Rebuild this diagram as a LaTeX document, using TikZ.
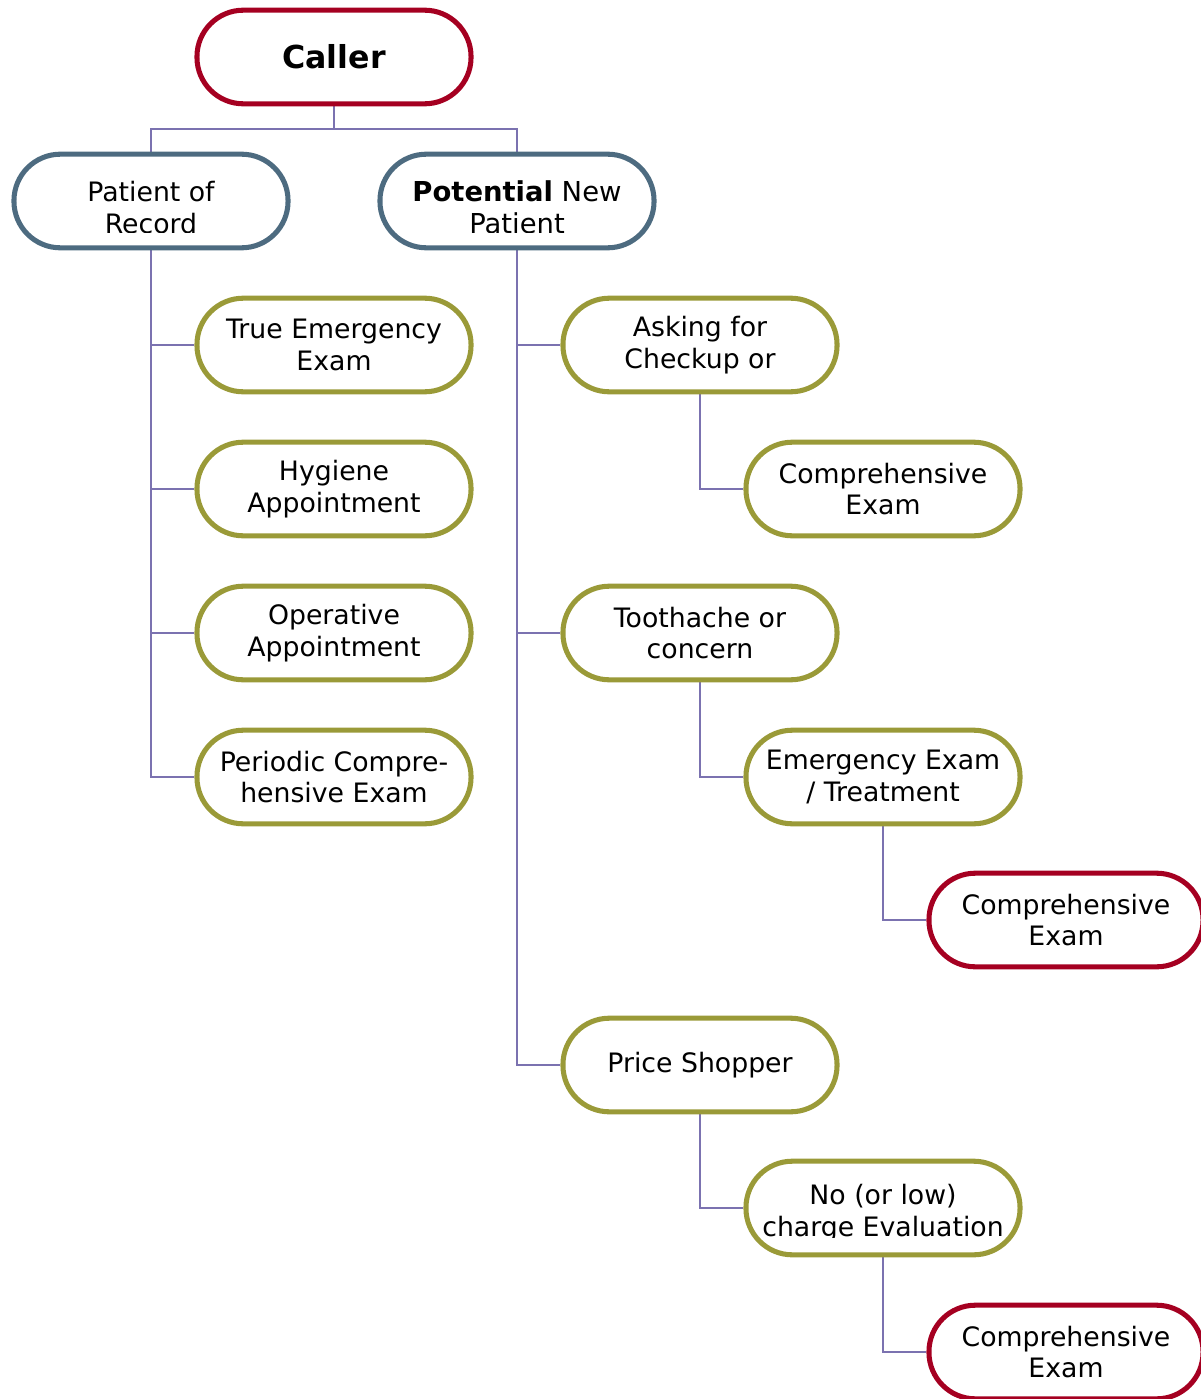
\documentclass[tikz,border=0pt]{standalone}
\usepackage{fontspec}
\setmainfont{DejaVu Sans}
\definecolor{cred}{HTML}{A50021}
\definecolor{cblue}{HTML}{4D6B80}
\definecolor{colive}{HTML}{9A9A38}
\definecolor{clink}{HTML}{7B72B0}
\pgfdeclarelayer{bg}
\pgfsetlayers{bg,main}
\begin{document}
\begin{tikzpicture}[x=0.025cm,y=-0.025cm,
  box/.style={draw, line width=3.6pt, rounded corners=1.16cm, minimum width=6.85cm, minimum height=2.34cm, align=center, fill=white, inner sep=0pt, font=\fontsize{19}{22.7}\selectfont},
  redbox/.style={box, draw=cred},
  bluebox/.style={box, draw=cblue},
  olivebox/.style={box, draw=colive},
  txt/.style={align=center, inner sep=0pt, font=\fontsize{19}{22.7}\selectfont},
  link/.style={draw=clink, line width=1.2pt}
]
\useasboundingbox (0,0) rectangle (1201,1399);

\node[redbox, font=\fontsize{22.5}{26}\selectfont\bfseries] (caller) at (334,57) {Caller};
\node[bluebox] (por) at (151,201) {};
\node[bluebox] (pnp) at (517,201) {};
\begin{scope}
  \clip (21,150) rectangle (281,232);
  \node[txt] (porT) at (151,207.5) {Patient of\\Record};
\end{scope}
\begin{scope}
  \clip (387,150) rectangle (647,232);
  \node[txt, font=\fontsize{19.5}{22.7}\selectfont] (pnpT) at (517,207.5) {\textbf{Potential} New\\Patient};
\end{scope}

\node[olivebox] (tee) at (334,345) {True Emergency\\Exam};
\node[olivebox] (hyg) at (334,489) {Hygiene\\Appointment};
\node[olivebox] (op) at (334,633) {Operative\\Appointment};
\node[olivebox] (per) at (334,777) {Periodic Compre-\\hensive Exam};

\node[olivebox] (ask) at (700,345) {Asking for\\Checkup or};
\node[olivebox] (ce1) at (883,489) {Comprehensive\\Exam};
\node[olivebox] (tooth) at (700,633) {Toothache or\\concern};
\node[olivebox] (emx) at (883,777) {Emergency Exam\\/ Treatment};
\node[redbox] (ce2) at (1066,920) {Comprehensive\\Exam};
\node[olivebox] (price) at (700,1065) {Price Shopper};
\node[olivebox] (nolow) at (883,1208) {};
\begin{scope}
  \clip (753,1160) rectangle (1013,1237);
  \node[txt] (nolowT) at (883,1213.5) {No (or low)\\charge Evaluation};
\end{scope}
\node[redbox] (ce3) at (1066,1352) {Comprehensive\\Exam};

\begin{pgfonlayer}{bg}
  \coordinate (j) at (334,129);
  \draw[link] (caller.south) -- (j);
  \draw[link] (por.north) |- (j) -| (pnp.north);
  \draw[link] (por.south) |- (tee.west);
  \draw[link] (por.south) |- (hyg.west);
  \draw[link] (por.south) |- (op.west);
  \draw[link] (por.south) |- (per.west);
  \draw[link] (pnp.south) |- (ask.west);
  \draw[link] (pnp.south) |- (tooth.west);
  \draw[link] (pnp.south) |- (price.west);
  \draw[link] (ask.south) |- (ce1.west);
  \draw[link] (tooth.south) |- (emx.west);
  \draw[link] (emx.south) |- (ce2.west);
  \draw[link] (price.south) |- (nolow.west);
  \draw[link] (nolow.south) |- (ce3.west);
\end{pgfonlayer}
\end{tikzpicture}
\end{document}
